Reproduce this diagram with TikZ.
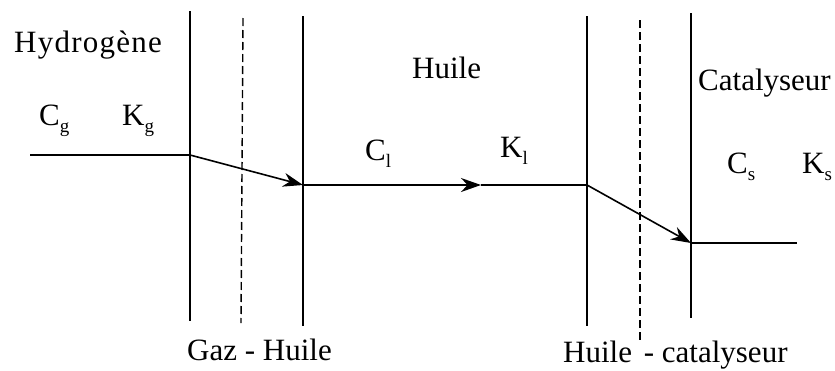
\documentclass[tikz,border=0pt]{standalone}
\usepackage{fontspec}
\setmainfont{Liberation Serif}
\usetikzlibrary{arrows.meta}
\newcommand\mysub[1]{\raisebox{-7pt}{\fontsize{19}{19}\selectfont #1}}
\begin{document}
\begin{tikzpicture}[x=1pt,y=-1pt,
  wall/.style={line width=1.6pt},
  dwall/.style={line width=1.4pt,dash pattern=on 8pt off 4pt},
  flux/.style={line width=1.6pt},
  fluxarrow/.style={line width=1.6pt,-{Stealth[length=20pt,width=14pt]}},
  lbl/.style={anchor=base west,inner sep=0pt,font=\fontsize{31}{36}\selectfont}]
\useasboundingbox (0,0) rectangle (835,370);
% walls
\coordinate (w1t) at (190,11);  \coordinate (w1b) at (190,321);
\coordinate (d1t) at (243,18);  \coordinate (d1b) at (241,323);
\coordinate (w2t) at (303,16);  \coordinate (w2b) at (303,326);
\coordinate (w3t) at (587,16);  \coordinate (w3b) at (587,326);
\coordinate (d2t) at (640,20);  \coordinate (d2b) at (640,342);
\coordinate (w4t) at (691,13);  \coordinate (w4b) at (691,318);
\draw[wall] (w1t) -- (w1b);
\draw[dwall] (d1t) -- (d1b);
\draw[wall] (w2t) -- (w2b);
\draw[wall] (w3t) -- (w3b);
\draw[dwall] (d2t) -- (d2b);
\draw[wall] (w4t) -- (w4b);
% concentration profile
\coordinate (p0) at (30,155);
\coordinate (p1) at (190,155);
\coordinate (p2) at (303,185);
\coordinate (pm) at (481,185);
\coordinate (p3) at (587,185);
\coordinate (p4) at (691,243);
\coordinate (p5) at (797,243);
\draw[flux] (p0) -- (p1);
\draw[fluxarrow] (p1) -- (p2);
\draw[fluxarrow] (p2) -- (pm);
\draw[flux] (pm) -- (p3);
\draw[fluxarrow] (p3) -- (p4);
\draw[flux] (p4) -- (p5);
% labels
\node[lbl] (hyd) at (14,52) {\addfontfeature{LetterSpace=4}Hydrogène};
\node[lbl] (cg) at (39,125) {C\mysub{g}};
\node[lbl] (kg) at (122,125) {K\mysub{g}};
\node[lbl] (huile) at (412,78) {Huile};
\node[lbl] (cl) at (365,160) {C\mysub{l}};
\node[lbl] (kl) at (500,157) {K\mysub{l}};
\node[lbl] (cat) at (698,90) {Catalyseur};
\node[lbl] (cs) at (727,173) {C\mysub{s}};
\node[lbl] (ks) at (802,173) {K\mysub{s}};
\node[lbl] (gh) at (187,360) {Gaz - Huile};
\node[lbl] (hc) at (563,362) {Huile\hspace{4pt} - catalyseur};
\end{tikzpicture}
\end{document}
